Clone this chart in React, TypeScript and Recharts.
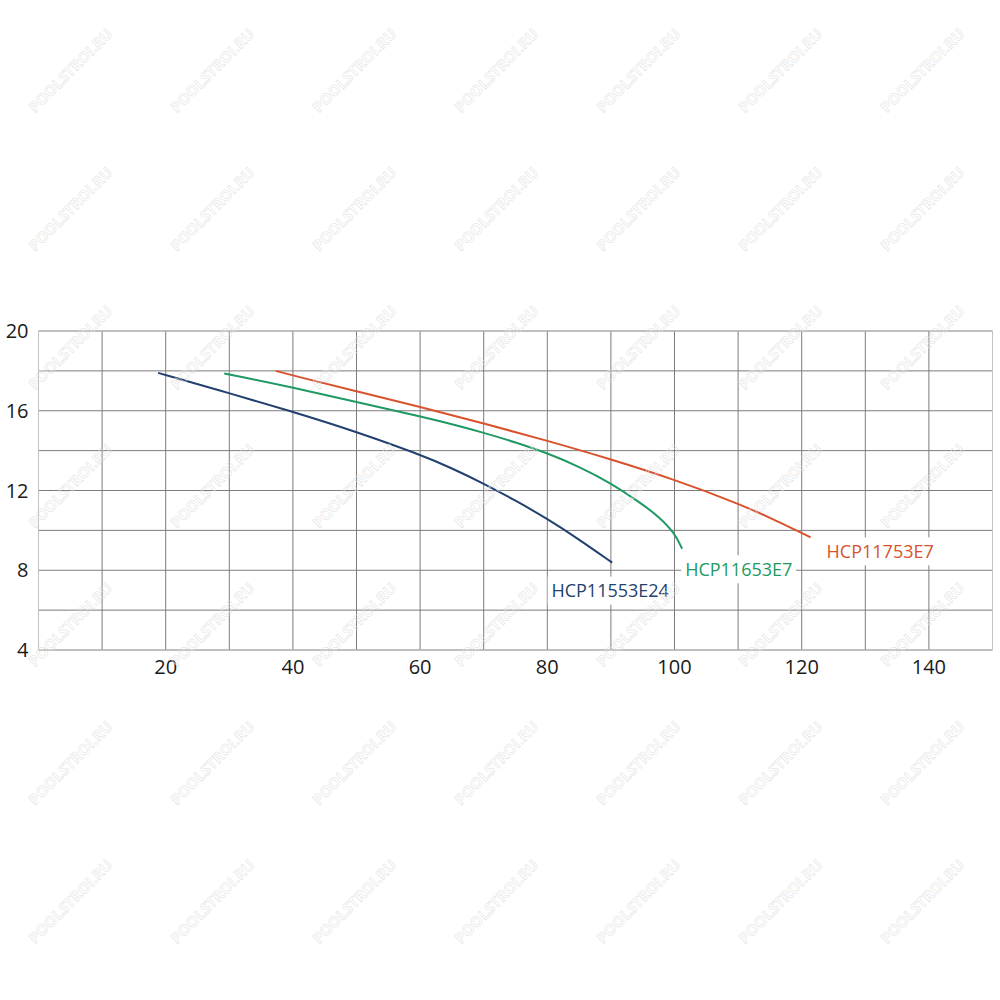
import React from 'react';
import { LineChart, Line, XAxis, YAxis, CartesianGrid, ReferenceArea } from 'recharts';

// Flow (x) and head (y) readings for each pump curve
const blueFlow = [18.8, 30, 40, 50, 60, 65, 70, 75, 80, 85, 90.2];
const blueHead = [17.9, 16.88, 15.95, 14.95, 13.8, 13.12, 12.35, 11.5, 10.58, 9.55, 8.38];

const greenFlow = [29.2, 40, 50, 60, 65, 70, 75, 80, 85, 90, 95, 97.5, 100, 101.2];
const greenHead = [17.87, 17.17, 16.43, 15.72, 15.33, 14.9, 14.42, 13.88, 13.2, 12.38, 11.3, 10.7, 9.88, 9.08];

const redFlow = [37.3, 40, 50, 60, 70, 80, 90, 100, 110, 115, 120, 121.4];
const redHead = [18.0, 17.77, 16.97, 16.2, 15.37, 14.5, 13.57, 12.55, 11.35, 10.64, 9.87, 9.65];

const seriesNames = ['HCP11553E24', 'HCP11653E7', 'HCP11753E7'];

const xTicks = [0, 10, 20, 30, 40, 50, 60, 70, 80, 90, 100, 110, 120, 130, 140, 150];
const yTicks = [4, 6, 8, 10, 12, 14, 16, 18, 20];

const wmText = 'POOLSTROI.RU';

const toPoints = (xs: number[], ys: number[]) => xs.map((x, i) => ({ x, y: ys[i] }));

const blueData = toPoints(blueFlow, blueHead);
const greenData = toPoints(greenFlow, greenHead);
const redData = toPoints(redFlow, redHead);

const FONT = '"Open Sans", "Noto Sans", sans-serif';

const makeLabel = (
  text: string,
  color: string,
  last: number,
  dx: number,
  dy: number,
  anchor: 'start' | 'middle',
  w: number
) => (props: any) => {
  const { x, y, index } = props;
  if (index !== last || x == null || y == null) return null;
  const cx = x + dx;
  const cy = y + dy;
  const left = anchor === 'middle' ? cx - w / 2 : cx;
  return (
    <g>
      <rect x={left - 4} y={cy - 14} width={w + 8} height={28} fill="#ffffff" />
      <text
        x={cx}
        y={cy + 6.4}
        textAnchor={anchor}
        fill={color}
        fontSize={18}
        fontFamily={FONT}
      >
        {text}
      </text>
    </g>
  );
};

const BLUE = '#22416f';
const GREEN = '#1f9a62';
const RED = '#d8532c';

const Watermarks = () => {
  const cols = [0, 1, 2, 3, 4, 5, 6];
  const rows = [0, 1, 2, 3, 4, 5, 6];
  return (
    <svg
      width={1000}
      height={1000}
      style={{ position: 'absolute', left: 0, top: 0, pointerEvents: 'none' }}
    >
      {rows.map((r) =>
        cols.map((c) => {
          const cx = 70 + 142 * c;
          const cy = 70 + 138.5 * r;
          return (
            <text
              key={`${r}-${c}`}
              x={cx}
              y={cy}
              transform={`rotate(-45 ${cx} ${cy})`}
              textAnchor="middle"
              dominantBaseline="central"
              fontSize={15}
              fontWeight="bold"
              fontFamily={FONT}
              fill="none"
              stroke="#e0e0e0"
              strokeWidth={0.5}
            >
              {wmText}
            </text>
          );
        })
      )}
    </svg>
  );
};

export default function App() {
  return (
    <div
      style={{
        position: 'absolute',
        left: 0,
        top: 0,
        width: 1000,
        height: 1000,
        background: '#ffffff',
      }}
    >
      <LineChart
        width={1000}
        height={1000}
        margin={{ top: 331, right: 7.5, bottom: 320, left: 0 }}
      >
        <CartesianGrid stroke="#7c7c7c" strokeWidth={1} />
        <XAxis
          dataKey="x"
          type="number"
          domain={[0, 150]}
          ticks={xTicks}
          allowDataOverflow
          axisLine={false}
          tickLine={false}
          tickSize={0}
          tickMargin={10}
          height={30}
          interval={0}
          tickFormatter={(v: number) => (v % 20 === 0 && v > 0 && v < 150 ? String(v) : '')}
          tick={{ fontSize: 20, fill: '#1a1a1a', fontFamily: FONT }}
        />
        <YAxis
          dataKey="y"
          type="number"
          domain={[4, 20]}
          ticks={yTicks}
          allowDataOverflow
          axisLine={false}
          tickLine={false}
          tickSize={0}
          tickMargin={10}
          width={38.5}
          interval={0}
          tickFormatter={(v: number) => (v % 4 === 0 ? String(v) : '')}
          tick={{ fontSize: 20, fill: '#1a1a1a', fontFamily: FONT }}
        />
        <ReferenceArea x1={0} x2={150} y1={4} y2={20} fill="none" stroke="#c2c2c2" strokeWidth={1} />
        <Line
          data={blueData}
          dataKey="y"
          type="basis"
          stroke={BLUE}
          strokeWidth={2}
          dot={false}
          isAnimationActive={false}
          label={makeLabel(seriesNames[0], BLUE, blueData.length - 1, -2, 28, 'middle', 117)}
        />
        <Line
          data={greenData}
          dataKey="y"
          type="basis"
          stroke={GREEN}
          strokeWidth={2}
          dot={false}
          isAnimationActive={false}
          label={makeLabel(seriesNames[1], GREEN, greenData.length - 1, 3, 20.6, 'start', 107)}
        />
        <Line
          data={redData}
          dataKey="y"
          type="basis"
          stroke={RED}
          strokeWidth={2}
          dot={false}
          isAnimationActive={false}
          label={makeLabel(seriesNames[2], RED, redData.length - 1, 16, 14, 'start', 106)}
        />
      </LineChart>
      <Watermarks />
    </div>
  );
}
